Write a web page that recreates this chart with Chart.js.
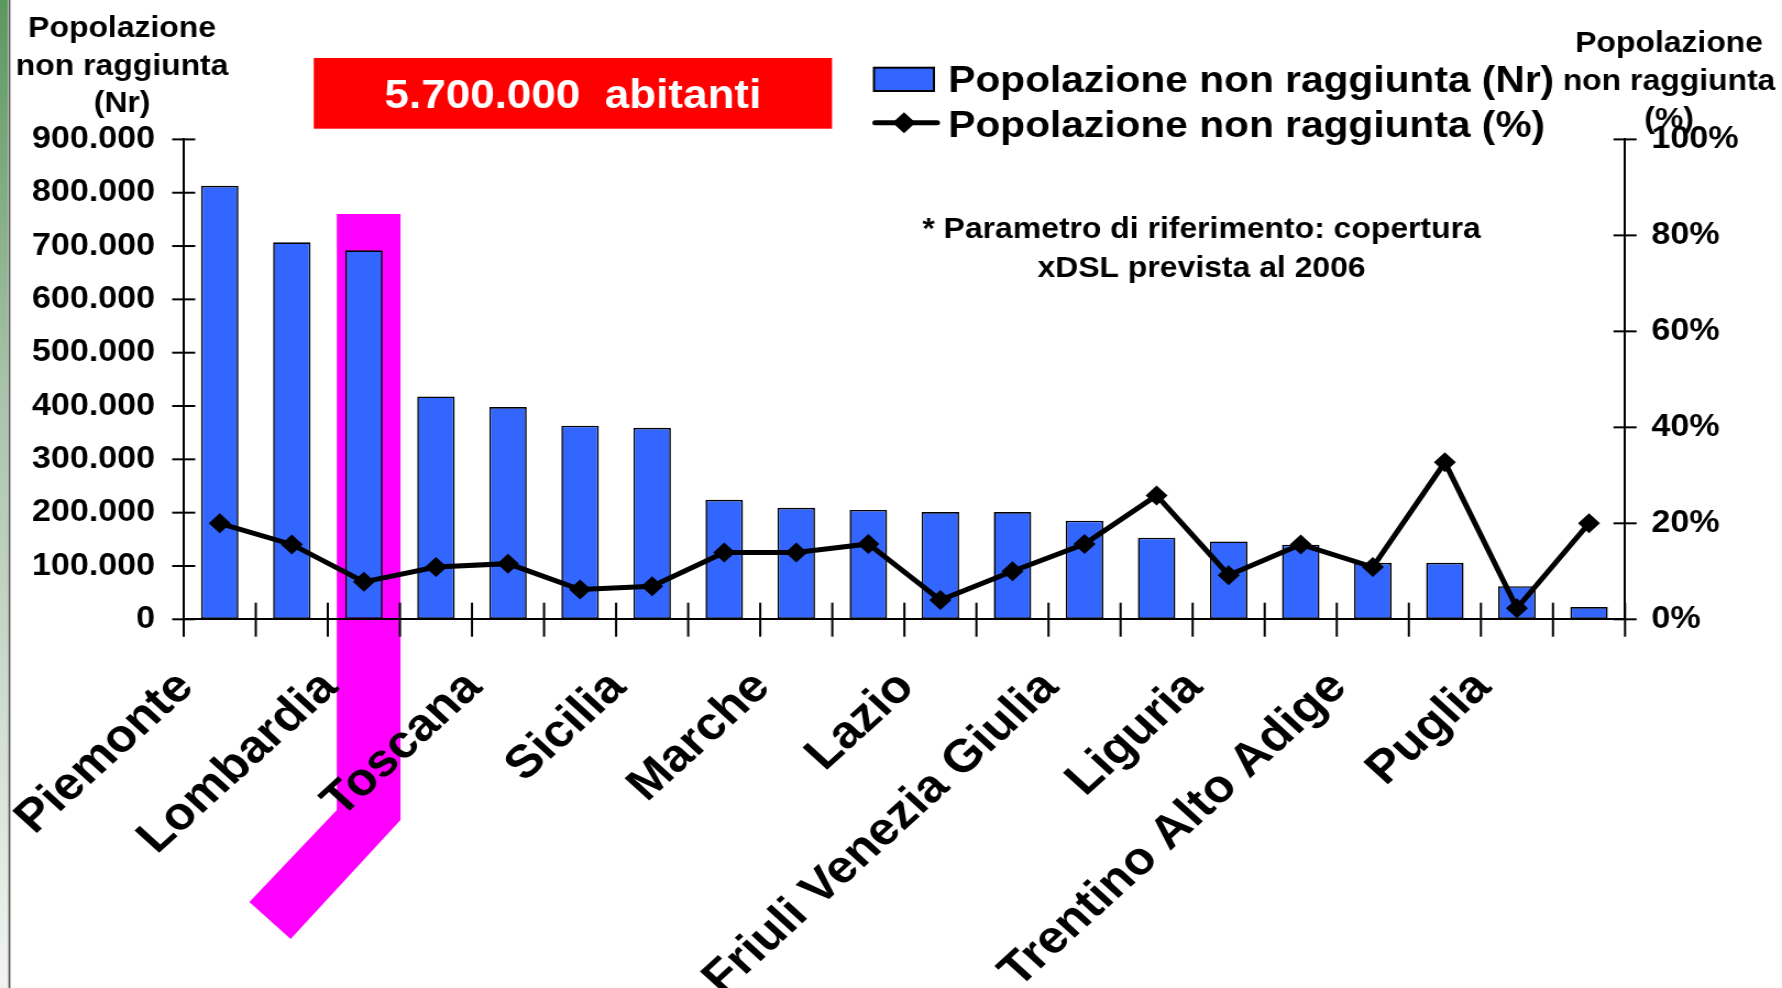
<!DOCTYPE html>
<html>
<head>
<meta charset="utf-8">
<script src="https://cdn.jsdelivr.net/npm/chart.js@4/dist/chart.umd.min.js"></script>
<style>
  html, body { margin: 0; padding: 0; background: #fff; overflow: hidden; }
</style>
</head>
<body>
<!-- the slide was stretched sideways, so the canvas is too -->
<canvas id="chart" width="1620" height="988" style="display:block;width:1782px;height:988px;"></canvas>
<script>
let categories = ['Piemonte', 'Veneto', 'Lombardia', 'Emilia Romagna', 'Toscana', 'Campania', 'Sicilia',
  'Sardegna', 'Marche', 'Abruzzo', 'Lazio', 'Calabria', 'Friuli Venezia Giulia', 'Basilicata', 'Liguria',
  'Umbria', 'Trentino Alto Adige', 'Molise', 'Puglia', "Valle d'Aosta"];
let nrValues = [813000, 707000, 692000, 418000, 398000, 363000, 359000, 224000, 209000, 205000,
  201000, 201000, 185000, 153000, 146000, 140000, 106000, 106000, 62000, 23000];
let pctValues = [20, 15.6, 7.8, 10.9, 11.6, 6.2, 6.9, 13.9, 13.9, 15.7,
  4.0, 10.0, 15.7, 25.8, 9.2, 15.6, 10.9, 32.7, 2.3, 20];
let seriesLabels = ['Popolazione non raggiunta (Nr)', 'Popolazione non raggiunta (%)'];
let leftTitle = ['Popolazione', 'non raggiunta', '(Nr)'];
let rightTitle = ['Popolazione', 'non raggiunta', '(%)'];
let totalText = '5.700.000  abitanti';
let noteText = ['* Parametro di riferimento: copertura', 'xDSL prevista al 2006'];

const FONT = '"Liberation Sans", Arial, sans-serif';
const barBlue = '#3366FF';

function fmtThousands(v) {
  return String(v).replace(/\B(?=(\d{3})+(?!\d))/g, '.');
}

Chart.defaults.font.family = FONT;
Chart.defaults.font.weight = 'bold';
Chart.defaults.color = '#000';

function line(ctx, x1, y1, x2, y2) {
  ctx.beginPath();
  ctx.moveTo(x1, y1);
  ctx.lineTo(x2, y2);
  ctx.stroke();
}

const decor = {
  id: 'decor',
  beforeDraw(chart) {
    const ctx = chart.ctx;
    const xs = chart.scales.x;
    ctx.save();
    // green strip on the left edge of the slide
    const g = ctx.createLinearGradient(0, 0, 0, chart.height);
    g.addColorStop(0, '#5b985e');
    g.addColorStop(0.4, '#a9c4aa');
    g.addColorStop(1, '#f2f4f2');
    ctx.fillStyle = g;
    ctx.fillRect(0, 0, 7, chart.height);
    ctx.fillStyle = '#555';
    ctx.fillRect(7.6, 0, 1.8, chart.height);

    // magenta highlight behind the third bar
    const c = xs.getPixelForValue(2);
    ctx.fillStyle = '#ff00ff';
    ctx.beginPath();
    ctx.moveTo(c - 24.6, 214);
    ctx.lineTo(c + 33.3, 214);
    ctx.lineTo(c + 33.3, 820);
    ctx.lineTo(c - 66.6, 939);
    ctx.lineTo(c - 104.1, 902);
    ctx.lineTo(c - 24.6, 810);
    ctx.closePath();
    ctx.fill();
    ctx.restore();
  },
  afterDraw(chart) {
    const ctx = chart.ctx;
    const area = chart.chartArea;
    const xs = chart.scales.x, ys = chart.scales.y, ys1 = chart.scales.y1;
    ctx.save();
    ctx.strokeStyle = '#000';
    ctx.lineWidth = 2;

    // tick marks crossing the axes
    ys.ticks.forEach((t, i) => {
      const py = ys.getPixelForTick(i);
      line(ctx, area.left - 10.5, py, area.left + 10.5, py);
    });
    ys1.ticks.forEach((t, i) => {
      const py = ys1.getPixelForTick(i);
      line(ctx, area.right - 10.5, py, area.right + 10.5, py);
    });
    const half = (xs.getPixelForValue(1) - xs.getPixelForValue(0)) / 2;
    for (let i = 0; i <= categories.length; i++) {
      const px = xs.getPixelForValue(0) - half + i * 2 * half;
      line(ctx, px, area.bottom - 16.6, px, area.bottom + 17.4);
    }

    ctx.fillStyle = '#000';
    ctx.textAlign = 'center';
    ctx.textBaseline = 'alphabetic';

    // axis titles
    ctx.font = 'bold 29px ' + FONT;
    [36.7, 75, 111.7].forEach((y, i) => ctx.fillText(leftTitle[i], 111, y));
    [51.7, 90, 128.3].forEach((y, i) => ctx.fillText(rightTitle[i], 1517.3, y));

    // note
    ctx.font = 'bold 29px ' + FONT;
    ctx.fillText(noteText[0], 1092.3, 238);
    ctx.fillText(noteText[1], 1092.3, 276.7);

    // red total box
    ctx.fillStyle = '#ff0000';
    ctx.fillRect(285.2, 58, 471.2, 70.7);
    ctx.fillStyle = '#fff';
    ctx.font = 'bold 40px ' + FONT;
    ctx.fillText(totalText, 520.8, 108.3);

    // legend
    const ds = chart.data.datasets;
    ctx.fillStyle = ds[0].backgroundColor;
    ctx.fillRect(794.5, 67.7, 54.5, 23.3);
    ctx.lineWidth = 2;
    ctx.strokeRect(794.5, 67.7, 54.5, 23.3);
    ctx.lineWidth = 5;
    ctx.lineCap = 'round';
    line(ctx, 795.5, 122.7, 852, 122.7);
    ctx.fillStyle = '#000';
    ctx.beginPath();
    ctx.moveTo(821.8 - 10.5, 122.7);
    ctx.lineTo(821.8, 112.2);
    ctx.lineTo(821.8 + 10.5, 122.7);
    ctx.lineTo(821.8, 133.2);
    ctx.closePath();
    ctx.fill();
    ctx.font = 'bold 37px ' + FONT;
    ctx.textAlign = 'left';
    ctx.fillText(ds[0].label, 862, 91.7);
    ctx.fillText(ds[1].label, 862, 136.7);
    ctx.restore();
  }
};

new Chart(document.getElementById('chart'), {
  data: {
    labels: categories,
    datasets: [{
      type: 'bar',
      label: seriesLabels[0],
      data: nrValues,
      yAxisID: 'y',
      backgroundColor: barBlue,
      borderColor: '#000',
      borderWidth: 1.6,
      borderSkipped: false,
      barPercentage: 0.52,
      categoryPercentage: 1.0,
      order: 2
    }, {
      type: 'line',
      label: seriesLabels[1],
      data: pctValues,
      yAxisID: 'y1',
      borderColor: '#000',
      borderWidth: 5,
      tension: 0,
      pointStyle: 'rectRot',
      pointRadius: 10,
      pointBackgroundColor: '#000',
      pointBorderWidth: 0,
      order: 1
    }]
  },
  options: {
    responsive: false,
    devicePixelRatio: 1,
    animation: false,
    layout: { padding: { top: 139.4, left: 0, right: 0, bottom: 0 } },
    plugins: {
      legend: { display: false },
      tooltip: { enabled: false }
    },
    scales: {
      x: {
        offset: true,
        grid: { drawOnChartArea: false, drawTicks: false, offset: true },
        border: { color: '#000', width: 2 },
        ticks: {
          autoSkip: false,
          minRotation: 45,
          maxRotation: 45,
          padding: 41,
          labelOffset: -31,
          font: { size: 46, weight: 'bold' },
          color: '#000',
          callback: (v, i) => (i % 2 === 0 ? categories[i] : '')
        },
        afterFit: s => { s.height = 368.7; }
      },
      y: {
        position: 'left',
        min: 0,
        max: 900000,
        grid: { drawOnChartArea: false, drawTicks: false },
        border: { color: '#000', width: 2 },
        ticks: {
          stepSize: 100000,
          padding: 26,
          font: { size: 31, weight: 'bold' },
          color: '#000',
          callback: v => fmtThousands(v)
        },
        afterFit: s => { s.width = 167; }
      },
      y1: {
        position: 'right',
        min: 0,
        max: 100,
        grid: { drawOnChartArea: false, drawTicks: false },
        border: { color: '#000', width: 2 },
        ticks: {
          stepSize: 20,
          padding: 24,
          font: { size: 31, weight: 'bold' },
          color: '#000',
          callback: v => v + '%'
        },
        afterFit: s => { s.width = 1620 - 1477.3; }
      }
    }
  },
  plugins: [decor]
});
</script>
</body>
</html>
